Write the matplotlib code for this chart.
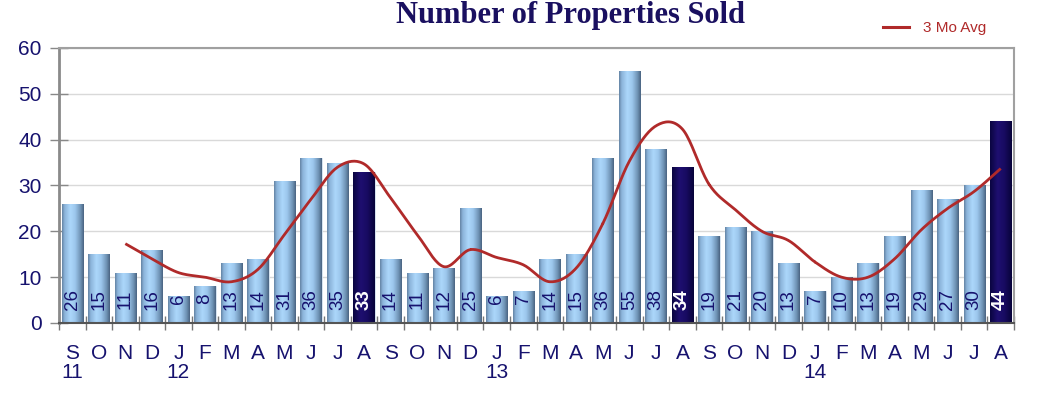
import numpy as np
import matplotlib
matplotlib.use("Agg")
import matplotlib.pyplot as plt
import matplotlib.transforms as mtransforms
from matplotlib.colors import LinearSegmentedColormap
from matplotlib.lines import Line2D

# ---- data ----
months = ["S", "O", "N", "D", "J", "F", "M", "A", "M", "J", "J", "A",
          "S", "O", "N", "D", "J", "F", "M", "A", "M", "J", "J", "A",
          "S", "O", "N", "D", "J", "F", "M", "A", "M", "J", "J", "A"]
years = {0: "11", 4: "12", 16: "13", 28: "14"}
sold = [26, 15, 11, 16, 6, 8, 13, 14, 31, 36, 35, 33,
        14, 11, 12, 25, 6, 7, 14, 15, 36, 55, 38, 34,
        19, 21, 20, 13, 7, 10, 13, 19, 29, 27, 30, 44]
highlight = [11, 23, 35]  # August bars drawn in dark navy
avg3 = [None, None, 17.3, 14.0, 11.0, 10.0, 9.0, 11.7, 19.3, 27.0, 34.0, 34.7,
        27.3, 19.3, 12.3, 16.0, 14.3, 12.7, 9.0, 12.0, 21.7, 35.3, 43.0, 42.3,
        30.3, 24.7, 20.0, 18.0, 13.3, 10.0, 10.0, 14.0, 20.3, 25.0, 28.7, 33.7]
yticks = [0, 10, 20, 30, 40, 50, 60]

navy = "#16126e"
red = "#b02a2a"

fig = plt.figure(figsize=(10.52, 3.94), dpi=100)
ax = fig.add_axes([59/1052, 1-323/394, (1014-59)/1052, (323-48)/394])

x = np.arange(len(sold))
bars = ax.bar(x, sold, width=0.8, color="#9cc6ec", edgecolor="#d8e4f0",
              linewidth=0.6, zorder=2)

light_cmap = LinearSegmentedColormap.from_list("lb", [
    (0.0, "#6585a5"), (0.12, "#8cb4da"), (0.38, "#acd7fb"),
    (0.6, "#9dc7ed"), (0.85, "#7094b6"), (1.0, "#4a6482")])
dark_cmap = LinearSegmentedColormap.from_list("db", [
    (0.0, "#0a0540"), (0.35, "#1e0f70"), (0.65, "#180b62"), (1.0, "#08033a")])
grad = np.linspace(0, 1, 64).reshape(1, -1)

for i, p in enumerate(bars.patches):
    x0, w, h = p.get_x(), p.get_width(), p.get_height()
    cm = dark_cmap if i in highlight else light_cmap
    im = ax.imshow(grad, cmap=cm, extent=[x0, x0 + w, 0, h], aspect="auto",
                   origin="lower", zorder=2.1, interpolation="bilinear")
    im.set_clip_path(p)
    if i in highlight:
        ax.text(i, 5.2, str(sold[i]), rotation=90, ha="center", va="center",
                color="white", fontsize=13.5, fontweight="bold",
                family="Liberation Sans", zorder=4)
    else:
        ax.text(i, 5.2, str(sold[i]), rotation=90, ha="center", va="center",
                color=navy, fontsize=13.5, family="Liberation Sans", zorder=4)

# smooth 3-month average line (Catmull-Rom through the read points)
idx = [i for i, v in enumerate(avg3) if v is not None]
px = np.array(idx, dtype=float)
py = np.array([avg3[i] for i in idx])
P = np.column_stack([px, py])
P = np.vstack([2*P[0]-P[1], P, 2*P[-1]-P[-2]])
cx, cy = [], []
t = np.linspace(0, 1, 20)[:, None]
for k in range(1, len(P) - 2):
    p0, p1, p2, p3 = P[k-1], P[k], P[k+1], P[k+2]
    seg = 0.5 * ((2*p1) + (-p0 + p2)*t + (2*p0 - 5*p1 + 4*p2 - p3)*t**2
                 + (-p0 + 3*p1 - 3*p2 + p3)*t**3)
    cx.extend(seg[:, 0]); cy.extend(seg[:, 1])
ax.plot(cx, cy, color=red, lw=2.0, zorder=5, solid_capstyle="butt")

ax.set_xlim(-0.5, len(sold) - 0.5)
ax.set_ylim(0, 60)
ax.set_yticks(yticks)
ax.yaxis.grid(True, color="#d9d9d9", lw=1.0, zorder=0)
ax.set_axisbelow(True)

ax.set_xticks(x)
ax.set_xticklabels(months)
ax.set_xticks(np.arange(-0.5, len(sold), 1.0), minor=True)
ax.tick_params(axis="x", which="major", length=0, pad=15, labelsize=15,
               labelcolor=navy)
ax.tick_params(axis="x", which="minor", length=10, direction="inout",
               color="#777777", width=1)
ax.tick_params(axis="y", length=13, direction="inout", color="#888888",
               width=1, labelsize=15, labelcolor=navy, pad=6)
for lab in ax.get_xticklabels() + ax.get_yticklabels():
    lab.set_family("Liberation Sans")

# year labels under the first month of each year
trans = mtransforms.blended_transform_factory(ax.transData, fig.transFigure)
for i, yr in years.items():
    ax.text(i, 1-372/394, yr, transform=trans, ha="center", va="center",
            fontsize=15, color=navy, family="Liberation Sans", clip_on=False)

for s in ["top", "right"]:
    ax.spines[s].set_color("#a0a0a0")
    ax.spines[s].set_linewidth(1.5)
ax.spines["left"].set_color("#8a8a8a")
ax.spines["left"].set_linewidth(2)
ax.spines["bottom"].set_color("#555555")
ax.spines["bottom"].set_linewidth(1.5)

fig.text(571/1052, 1-23/394, "Number of Properties Sold", ha="center",
         va="baseline", fontsize=22, fontweight="bold", color="#1a1060",
         family="Liberation Serif")

# legend
fig.add_artist(Line2D([883/1052, 909/1052], [1-27/394, 1-27/394],
                      color=red, lw=2.2, transform=fig.transFigure))
fig.text(923/1052, 1-28/394, "3 Mo Avg", ha="left", va="center",
         fontsize=11, color=red, family="Liberation Sans")

fig.savefig("out.png", dpi=100)
